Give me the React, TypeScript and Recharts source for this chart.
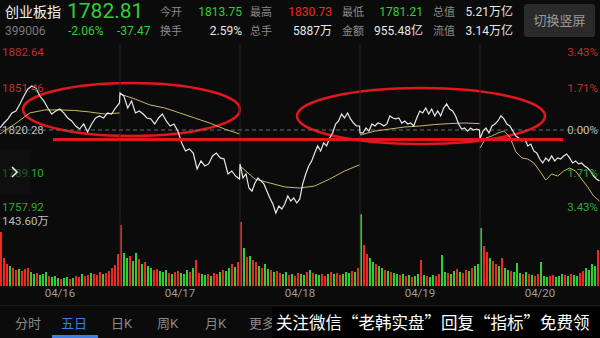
import React from "react";
import {
  ComposedChart,
  Line,
  XAxis,
  YAxis,
  ReferenceLine,
  ReferenceArea,
  BarChart,
  Bar,
  Cell,
} from "recharts";

// five trading sessions, 240 minutes each
const dates = ["04/16", "04/17", "04/18", "04/19", "04/20"];
const DAY = 240;
const prevClose = 1820.28;
const priceTicks = [1882.64, 1851.46, 1820.28, 1789.1, 1757.92];

const day1Price = [1821.8, 1825.4, 1828.4, 1832.8, 1834.2, 1839.4, 1845.2, 1850.4, 1852.6, 1851.1, 1845.2, 1841.6, 1836.4, 1832.0, 1834.2, 1835.7, 1832.8, 1829.1, 1826.9, 1823.2, 1821.0, 1824.7, 1818.8, 1824.7, 1829.1, 1830.6, 1829.1, 1832.8, 1832.0, 1836.4, 1840.1];
const day2Price = [1847.4, 1845.2, 1836.4, 1841.6, 1832.8, 1834.2, 1832.0, 1829.1, 1828.4, 1824.7, 1829.1, 1832.0, 1826.9, 1823.2, 1824.7, 1819.5, 1810.8, 1804.9, 1806.4, 1803.4, 1791.7, 1797.6, 1793.9, 1795.4, 1801.2, 1803.4, 1799.8, 1799.0, 1788.0, 1790.2, 1786.5, 1784.3];
const day3Price = [1795.4, 1785.1, 1788.0, 1777.7, 1775.5, 1781.4, 1785.1, 1782.9, 1780.7, 1775.5, 1770.4, 1766.0, 1759.4, 1764.5, 1762.3, 1766.0, 1771.9, 1768.2, 1770.4, 1766.7, 1769.7, 1780.7, 1788.0, 1793.9, 1797.6, 1803.4, 1808.6, 1804.9, 1810.8, 1808.6, 1814.4, 1818.1, 1824.7, 1826.9, 1832.0, 1829.1, 1832.8, 1828.4, 1825.4, 1823.2, 1823.2];
const day4Price = [1818.1, 1818.1, 1821.8, 1819.5, 1824.7, 1823.2, 1825.4, 1824.7, 1823.2, 1824.7, 1830.6, 1829.1, 1828.4, 1829.1, 1825.4, 1826.9, 1824.7, 1825.4, 1823.2, 1829.1, 1834.2, 1832.8, 1836.4, 1832.0, 1835.7, 1830.6, 1834.2, 1830.6, 1836.4, 1839.4, 1835.7, 1834.2, 1830.6, 1824.7, 1821.0, 1821.8, 1819.5, 1821.8, 1820.3, 1821.0, 1820.3];
const day5Price = [1813.75, 1819.5, 1821.8, 1818.1, 1823.2, 1824.7, 1826.9, 1830.73, 1828.4, 1824.7, 1823.2, 1819.5, 1815.9, 1814.4, 1812.2, 1813.7, 1808.6, 1810.0, 1804.9, 1803.4, 1799.0, 1796.1, 1799.8, 1797.6, 1801.2, 1797.6, 1799.8, 1799.0, 1801.2, 1802.7, 1799.8, 1796.1, 1797.6, 1795.4, 1796.1, 1793.9, 1792.4, 1790.2, 1786.5, 1784.3, 1782.81];

const day1Avg = [1817.4, 1824.7, 1832.8, 1835.0, 1835.0, 1834.6, 1833.5, 1832.0, 1832.8];
const day2Avg = [1846.7, 1843.0, 1838.7, 1836.4, 1832.8, 1829.1, 1825.4, 1821.0, 1817.4];
const day3Avg = [1793.9, 1784.3, 1781.4, 1778.5, 1777.7, 1779.2, 1784.3, 1790.2, 1794.7];
const day4Avg = [1816.6, 1819.5, 1821.0, 1822.5, 1823.2, 1824.3, 1825.0, 1825.4, 1825.0];
const day5Avg = [1807.1, 1814.4, 1815.9, 1818.1, 1819.5, 1815.1, 1804.2, 1799.8, 1799.0, 1796.1, 1790.2, 1783.6, 1788.0, 1786.5, 1790.2, 1792.4, 1790.2, 1784.3, 1778.5, 1771.9, 1768.2];

// volume in 万手, 40 bars per session
const day1Vol = [108, 56, 44, 40, 36, 32, 34, 30, 34, 36, 28, 24, 26, 22, 24, 28, 20, 18, 20, 16, 14, 16, 18, 14, 16, 20, 18, 24, 20, 22, 26, 24, 22, 28, 24, 26, 30, 36, 42, 64];
const day2Vol = [122, 66, 56, 60, 50, 66, 54, 44, 48, 40, 36, 32, 34, 30, 28, 32, 26, 24, 28, 30, 26, 24, 32, 28, 36, 52, 26, 24, 22, 24, 20, 26, 24, 28, 32, 30, 36, 44, 38, 48];
const day3Vol = [128, 76, 58, 60, 52, 48, 40, 36, 44, 34, 32, 28, 30, 26, 24, 28, 22, 24, 20, 26, 24, 22, 28, 32, 26, 24, 22, 24, 20, 24, 28, 24, 26, 22, 24, 28, 26, 30, 28, 36];
const day4Vol = [143.6, 82, 64, 56, 48, 44, 40, 36, 32, 30, 28, 26, 24, 22, 24, 20, 22, 18, 20, 24, 52, 22, 20, 18, 22, 20, 24, 62, 28, 26, 24, 30, 34, 28, 26, 32, 30, 36, 40, 44];
const day5Vol = [116, 80, 68, 56, 50, 44, 40, 56, 36, 32, 30, 28, 46, 26, 24, 28, 24, 22, 20, 24, 48, 20, 18, 20, 22, 18, 20, 24, 22, 20, 24, 22, 20, 26, 30, 36, 32, 44, 40, 72];
// r = up minute, g = down minute
const day1Dir = "rrrgrrgrrrggrgggrggg" + "rggrgrrgrrgrrrgrrrrr";
const day2Dir = "rggrggrgrggrrgggrgrr" + "gggrgrrggrgrrgrggrgr";
const day3Dir = "rgrgrrgrggrgrrggrgrr" + "ggrgrggrrgrgrrgggrgr";
const day4Dir = "grrggrggrgrggrgrgrgg" + "rgrggrrggrggrgrrgrgg";
const day5Dir = "grrgrrgrggrgggrgrgrr" + "gggrrgggrgrggrrggggr";

// annotations drawn on the screenshot
const circledMinutes = [[46, 480], [594, 1090]];
const circledPrices = [[1854.8, 1815.9], [1851.1, 1810.0]];
const markLinePrice = 1813.3;
const markLineMinutes = [106, 1126];

const RED = "#ec2a22";
const GREEN = "#2fcf35";
const GRID = "#262626";

const priceDays = [day1Price, day2Price, day3Price, day4Price, day5Price];
const avgDays = [day1Avg, day2Avg, day3Avg, day4Avg, day5Avg];
const volDays = [day1Vol, day2Vol, day3Vol, day4Vol, day5Vol];
const dirDays = [day1Dir, day2Dir, day3Dir, day4Dir, day5Dir];

const rows: any[] = [];
priceDays.forEach((arr, d) =>
  arr.forEach((p, i) => rows.push({ t: d * DAY + (i * (DAY - 1)) / (arr.length - 1), price: p }))
);
avgDays.forEach((arr, d) =>
  arr.forEach((v, i) => rows.push({ t: d * DAY + (i * (DAY - 1)) / (arr.length - 1), ["a" + d]: v }))
);
rows.sort((a, b) => a.t - b.t);

const volRows = volDays.flatMap((arr, d) =>
  arr.map((v, i) => ({ t: d * DAY + i * 6 + 3, v, up: dirDays[d][i] === "r" }))
);

const dayLines = dates.slice(1).map((_, i) => (i + 1) * DAY);
const dateTicks = dates.map((_, i) => i * DAY + DAY / 2);

const tickColor = (v: number) => (v > prevClose + 0.01 ? "#c0302b" : v < prevClose - 0.01 ? "#2ea836" : "#bdbdbd");
const tickShift = (v: number) => (v === priceTicks[0] ? 7 : v === priceTicks[priceTicks.length - 1] ? -8 : 0);

const leftTick = (props: any) => {
  const v = props.payload.value;
  return (
    <text x={2} y={props.y + tickShift(v)} dominantBaseline="central" fontSize={11.5} fill={tickColor(v)}>
      {v.toFixed(2)}
    </text>
  );
};

const rightTick = (props: any) => {
  const v = props.payload.value;
  const pct = Math.abs(((v - prevClose) / prevClose) * 100).toFixed(2) + "%";
  return (
    <text
      x={598}
      y={props.y + tickShift(v)}
      dominantBaseline="central"
      textAnchor="end"
      fontSize={11.5}
      fill={tickColor(v)}
    >
      {pct}
    </text>
  );
};

const Ellipse = (props: any) => (
  <ellipse
    cx={props.x + props.width / 2}
    cy={props.y + props.height / 2}
    rx={Math.abs(props.width) / 2}
    ry={Math.abs(props.height) / 2}
    fill="none"
    stroke="#e3161e"
    strokeWidth={2.5}
  />
);

function T({ x, y, c = "#8a8a8a", s = 12, right = false, children }: any) {
  const style: React.CSSProperties = {
    position: "absolute",
    top: y - s / 2,
    fontSize: s,
    lineHeight: `${s}px`,
    color: c,
    whiteSpace: "nowrap",
  };
  if (right) style.right = 600 - x;
  else style.left = x;
  return <span style={style}>{children}</span>;
}

export default function App() {
  return (
    <div
      style={{
        position: "relative",
        width: 600,
        height: 338,
        background: "#0b0b0b",
        overflow: "hidden",
        fontFamily: 'Roboto, "Noto Sans CJK SC", sans-serif',
      }}
    >
      <style>{"body{margin:0}"}</style>

      {/* header */}
      <T x={5} y={12} c="#f2f2f2" s={14}>创业板指</T>
      <T x={67} y={11} c={GREEN} s={21}>1782.81</T>
      <T x={5} y={31} c="#7a7a7a" s={12}>399006</T>
      <T x={68} y={31} c={GREEN} s={12}>-2.06%</T>
      <T x={117} y={31} c={GREEN} s={12}>-37.47</T>
      <T x={160} y={12} s={11}>今开</T>
      <T x={242} y={12} c={GREEN} s={12} right>1813.75</T>
      <T x={160} y={31} s={11}>换手</T>
      <T x={242} y={31} c="#e6e6e6" s={12} right>2.59%</T>
      <T x={250} y={12} s={11}>最高</T>
      <T x={332} y={12} c={RED} s={12} right>1830.73</T>
      <T x={250} y={31} s={11}>总手</T>
      <T x={332} y={31} c="#e6e6e6" s={12} right>5887万</T>
      <T x={342} y={12} s={11}>最低</T>
      <T x={423} y={12} c={GREEN} s={12} right>1781.21</T>
      <T x={342} y={31} s={11}>金额</T>
      <T x={423} y={31} c="#e6e6e6" s={12} right>955.48亿</T>
      <T x={433} y={12} s={11}>总值</T>
      <T x={513} y={12} c="#e6e6e6" s={12} right>5.21万亿</T>
      <T x={433} y={31} s={11}>流值</T>
      <T x={513} y={31} c="#e6e6e6" s={12} right>3.14万亿</T>
      <div
        style={{
          position: "absolute",
          left: 524,
          top: 4,
          width: 71,
          height: 33,
          background: "#2a2a2a",
          borderRadius: 3,
          color: "#9a9a9a",
          fontSize: 13,
          lineHeight: "33px",
          textAlign: "center",
        }}
      >
        切换竖屏
      </div>

      {/* price chart */}
      <div style={{ position: "absolute", left: 0, top: 45 }}>
        <ComposedChart width={600} height={170} data={rows} margin={{ top: 0, right: 0, bottom: 0, left: 0 }}>
          <XAxis type="number" dataKey="t" domain={[0, DAY * dates.length]} hide />
          <YAxis
            yAxisId="p"
            domain={[priceTicks[4], priceTicks[0]]}
            ticks={priceTicks}
            interval={0}
            orientation="left"
            mirror
            width={40}
            axisLine={false}
            tickLine={false}
            tick={leftTick}
          />
          <YAxis
            yAxisId="r"
            domain={[priceTicks[4], priceTicks[0]]}
            ticks={priceTicks}
            interval={0}
            orientation="right"
            mirror
            width={40}
            axisLine={false}
            tickLine={false}
            tick={rightTick}
          />
          {dayLines.map((x) => (
            <ReferenceLine key={x} yAxisId="p" x={x} stroke={GRID} />
          ))}
          <ReferenceLine yAxisId="p" y={prevClose} stroke="#6a6a6a" strokeDasharray="4 3" />
          {avgDays.map((_, d) => (
            <Line
              key={d}
              yAxisId="p"
              dataKey={"a" + d}
              stroke="#c9b864"
              strokeWidth={1}
              dot={false}
              connectNulls
              isAnimationActive={false}
            />
          ))}
          {/* both axes share the same price domain */}
          <Line
            yAxisId="r"
            dataKey="price"
            stroke="#e8e8e8"
            strokeWidth={1.2}
            dot={false}
            connectNulls
            isAnimationActive={false}
          />
          {circledMinutes.map((m, i) => (
            <ReferenceArea
              key={i}
              yAxisId="p"
              x1={m[0]}
              x2={m[1]}
              y1={circledPrices[i][1]}
              y2={circledPrices[i][0]}
              shape={Ellipse}
            />
          ))}
          <ReferenceLine
            yAxisId="p"
            segment={[
              { x: markLineMinutes[0], y: markLinePrice },
              { x: markLineMinutes[1], y: markLinePrice },
            ]}
            stroke="#e3161e"
            strokeWidth={3}
          />
        </ComposedChart>
      </div>

      {/* collapse handle */}
      <svg
        width={30}
        height={44}
        style={{ position: "absolute", left: 0, top: 150, background: "rgba(20,20,20,0.55)" }}
      >
        <polyline points="12,17 17,22 12,27" fill="none" stroke="#eeeeee" strokeWidth={1.5} />
      </svg>

      {/* volume chart */}
      <div style={{ position: "absolute", left: 0, top: 213 }}>
        <BarChart width={600} height={93} data={volRows} margin={{ top: 0, right: 0, bottom: 0, left: 0 }}>
          <XAxis
            type="number"
            dataKey="t"
            domain={[0, DAY * dates.length]}
            ticks={dateTicks}
            tickFormatter={(v: number) => dates[Math.floor(v / DAY)]}
            height={20}
            axisLine={false}
            tickLine={false}
            tickSize={0}
            tickMargin={3}
            tick={{ fill: "#9c9c9c", fontSize: 11.5 }}
          />
          <YAxis domain={[0, 146]} hide />
          {dayLines.map((x) => (
            <ReferenceLine key={x} x={x} stroke={GRID} />
          ))}
          <Bar dataKey="v" barSize={2} isAnimationActive={false}>
            {volRows.map((r, i) => (
              <Cell key={i} fill={r.up ? RED : GREEN} />
            ))}
          </Bar>
        </BarChart>
      </div>
      <T x={2} y={222} c="#bdbdbd" s={11.5}>143.60万</T>

      {/* tabs */}
      <div style={{ position: "absolute", left: 0, top: 305, width: 600, height: 1, background: "#1c1c1c" }} />
      <T x={15} y={323} s={13}>分时</T>
      <T x={61} y={323} c="#3d7ee6" s={13}>五日</T>
      <T x={111} y={323} s={13}>日K</T>
      <T x={157} y={323} s={13}>周K</T>
      <T x={205} y={323} s={13}>月K</T>
      <T x={249} y={323} s={13}>更多</T>
      <div style={{ position: "absolute", left: 52, top: 335, width: 46, height: 3, background: "#3d7ee6" }} />
      <div
        style={{
          position: "absolute",
          left: 272,
          top: 307,
          width: 328,
          height: 31,
          background: "#000",
          color: "#ffffff",
          fontSize: 16.5,
          lineHeight: "31px",
          paddingLeft: 4,
          whiteSpace: "nowrap",
          fontFamily: '"Noto Sans CJK SC", sans-serif',
        }}
      >
        关注微信“老韩实盘”回复“指标”免费领
      </div>
    </div>
  );
}
